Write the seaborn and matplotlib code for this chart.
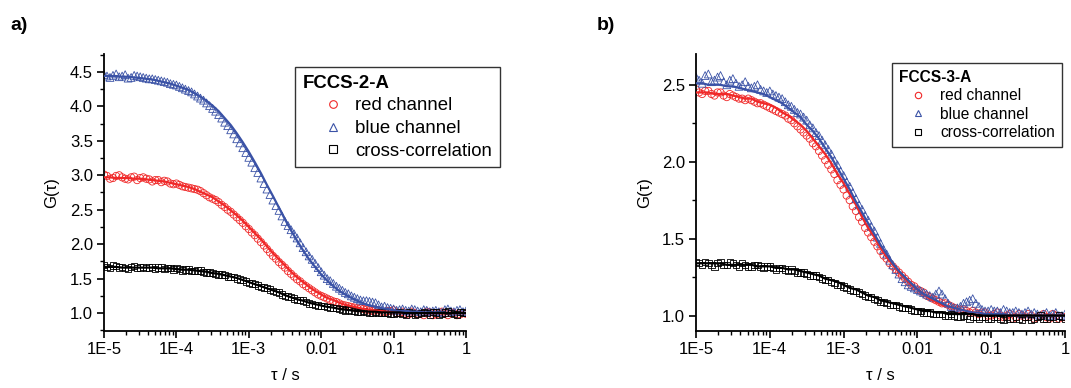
import matplotlib
matplotlib.use("Agg")
import numpy as np
import matplotlib.pyplot as plt
import seaborn as sns
from matplotlib.lines import Line2D
from matplotlib.ticker import FixedLocator, FixedFormatter, MultipleLocator, NullFormatter, LogLocator, FormatStrFormatter

# ---------------- data ----------------
# lag times of the measured points (24 per decade)
tau_data = [
    1.00e-5, 1.10e-5, 1.21e-5, 1.33e-5, 1.47e-5, 1.62e-5, 1.78e-5, 1.96e-5, 2.15e-5, 2.37e-5, 2.61e-5, 2.87e-5,
    3.16e-5, 3.48e-5, 3.83e-5, 4.22e-5, 4.64e-5, 5.11e-5, 5.62e-5, 6.19e-5, 6.81e-5, 7.50e-5, 8.25e-5, 9.09e-5,
    1.00e-4, 1.10e-4, 1.21e-4, 1.33e-4, 1.47e-4, 1.62e-4, 1.78e-4, 1.96e-4, 2.15e-4, 2.37e-4, 2.61e-4, 2.87e-4,
    3.16e-4, 3.48e-4, 3.83e-4, 4.22e-4, 4.64e-4, 5.11e-4, 5.62e-4, 6.19e-4, 6.81e-4, 7.50e-4, 8.25e-4, 9.09e-4,
    1.00e-3, 1.10e-3, 1.21e-3, 1.33e-3, 1.47e-3, 1.62e-3, 1.78e-3, 1.96e-3, 2.15e-3, 2.37e-3, 2.61e-3, 2.87e-3,
    3.16e-3, 3.48e-3, 3.83e-3, 4.22e-3, 4.64e-3, 5.11e-3, 5.62e-3, 6.19e-3, 6.81e-3, 7.50e-3, 8.25e-3, 9.09e-3,
    1.00e-2, 1.10e-2, 1.21e-2, 1.33e-2, 1.47e-2, 1.62e-2, 1.78e-2, 1.96e-2, 2.15e-2, 2.37e-2, 2.61e-2, 2.87e-2,
    3.16e-2, 3.48e-2, 3.83e-2, 4.22e-2, 4.64e-2, 5.11e-2, 5.62e-2, 6.19e-2, 6.81e-2, 7.50e-2, 8.25e-2, 9.09e-2,
    1.00e-1, 1.10e-1, 1.21e-1, 1.33e-1, 1.47e-1, 1.62e-1, 1.78e-1, 1.96e-1, 2.15e-1, 2.37e-1, 2.61e-1, 2.87e-1,
    3.16e-1, 3.48e-1, 3.83e-1, 4.22e-1, 4.64e-1, 5.11e-1, 5.62e-1, 6.19e-1, 6.81e-1, 7.50e-1, 8.25e-1, 9.09e-1,
    1.00]
# lag times of the fitted curves (12 per decade)
tau_fit = [
    1.00e-5, 1.21e-5, 1.47e-5, 1.78e-5, 2.15e-5, 2.61e-5, 3.16e-5, 3.83e-5, 4.64e-5, 5.62e-5, 6.81e-5, 8.25e-5,
    1.00e-4, 1.21e-4, 1.47e-4, 1.78e-4, 2.15e-4, 2.61e-4, 3.16e-4, 3.83e-4, 4.64e-4, 5.62e-4, 6.81e-4, 8.25e-4,
    1.00e-3, 1.21e-3, 1.47e-3, 1.78e-3, 2.15e-3, 2.61e-3, 3.16e-3, 3.83e-3, 4.64e-3, 5.62e-3, 6.81e-3, 8.25e-3,
    1.00e-2, 1.21e-2, 1.47e-2, 1.78e-2, 2.15e-2, 2.61e-2, 3.16e-2, 3.83e-2, 4.64e-2, 5.62e-2, 6.81e-2, 8.25e-2,
    1.00e-1, 1.21e-1, 1.47e-1, 1.78e-1, 2.15e-1, 2.61e-1, 3.16e-1, 3.83e-1, 4.64e-1, 5.62e-1, 6.81e-1, 8.25e-1,
    1.00]

# panel a) FCCS-2-A
a_red_data = [
    3.01, 2.99, 2.95, 2.96, 2.99, 3.00, 2.97, 2.95, 2.94, 2.97, 2.98, 2.93,
    2.96, 2.97, 2.95, 2.94, 2.91, 2.93, 2.93, 2.90, 2.92, 2.91, 2.88, 2.87,
    2.88, 2.86, 2.84, 2.83, 2.82, 2.81, 2.80, 2.79, 2.77, 2.74, 2.71, 2.68,
    2.66, 2.64, 2.61, 2.57, 2.54, 2.50, 2.47, 2.43, 2.39, 2.35, 2.31, 2.26,
    2.22, 2.17, 2.13, 2.08, 2.03, 1.98, 1.93, 1.88, 1.83, 1.79, 1.74, 1.70,
    1.66, 1.61, 1.57, 1.53, 1.49, 1.46, 1.42, 1.39, 1.36, 1.33, 1.30, 1.27,
    1.25, 1.23, 1.21, 1.19, 1.17, 1.16, 1.14, 1.12, 1.11, 1.10, 1.09, 1.08,
    1.07, 1.07, 1.06, 1.05, 1.04, 1.03, 1.05, 1.04, 1.02, 1.01, 1.03, 1.03,
    1.04, 1.00, 1.00, 1.02, 0.99, 0.98, 1.02, 1.00, 0.98, 0.99, 0.97, 1.02,
    1.01, 0.97, 0.98, 1.00, 1.02, 0.99, 0.97, 1.01, 1.00, 0.97, 0.98, 1.00,
    0.99]
a_red_fit = [2.97, 2.97, 2.96, 2.96, 2.96, 2.95, 2.95, 2.94, 2.93, 2.92, 2.91, 2.89, 2.87, 2.85, 2.83, 2.80,
             2.76, 2.72, 2.68, 2.62, 2.56, 2.49, 2.42, 2.34, 2.25, 2.16, 2.07, 1.97, 1.87, 1.78, 1.69, 1.60,
             1.52, 1.45, 1.38, 1.32, 1.27, 1.22, 1.19, 1.15, 1.12, 1.10, 1.08, 1.06, 1.05, 1.04, 1.03, 1.02,
             1.02, 1.01, 1.01, 1.01, 1.01, 1.00, 1.00, 1.00, 1.00, 1.00, 1.00, 1.00, 1.00]
a_blue_data = [
    4.46, 4.44, 4.42, 4.45, 4.47, 4.43, 4.44, 4.46, 4.41, 4.42, 4.45, 4.44,
    4.43, 4.42, 4.41, 4.40, 4.40, 4.39, 4.38, 4.37, 4.36, 4.35, 4.33, 4.32,
    4.31, 4.29, 4.27, 4.25, 4.23, 4.21, 4.18, 4.15, 4.12, 4.09, 4.05, 4.01,
    3.97, 3.93, 3.88, 3.83, 3.77, 3.72, 3.66, 3.60, 3.53, 3.47, 3.40, 3.33,
    3.26, 3.19, 3.11, 3.04, 2.96, 2.88, 2.80, 2.72, 2.64, 2.56, 2.49, 2.41,
    2.33, 2.27, 2.21, 2.15, 2.09, 2.02, 1.95, 1.89, 1.83, 1.78, 1.72, 1.66,
    1.60, 1.55, 1.50, 1.47, 1.43, 1.39, 1.36, 1.33, 1.30, 1.28, 1.25, 1.23,
    1.21, 1.19, 1.18, 1.18, 1.17, 1.16, 1.15, 1.12, 1.09, 1.10, 1.08, 1.07,
    1.06, 1.04, 1.05, 1.06, 1.04, 1.03, 1.06, 1.05, 1.03, 1.02, 1.05, 1.04,
    1.02, 1.03, 1.04, 1.02, 1.01, 1.05, 1.06, 1.03, 1.02, 1.04, 1.05, 1.02,
    1.03]
a_blue_fit = [4.44, 4.44, 4.44, 4.43, 4.43, 4.42, 4.41, 4.40, 4.39, 4.37, 4.35, 4.33, 4.30, 4.27, 4.24, 4.19,
              4.14, 4.08, 4.01, 3.93, 3.83, 3.73, 3.61, 3.48, 3.34, 3.19, 3.03, 2.86, 2.70, 2.53, 2.36, 2.20,
              2.05, 1.91, 1.78, 1.67, 1.56, 1.47, 1.39, 1.32, 1.27, 1.22, 1.18, 1.14, 1.11, 1.09, 1.07, 1.06,
              1.04, 1.03, 1.03, 1.02, 1.02, 1.01, 1.01, 1.01, 1.01, 1.00, 1.00, 1.00, 1.00]
a_cross_data = [
    1.70, 1.67, 1.65, 1.69, 1.68, 1.66, 1.67, 1.65, 1.64, 1.67, 1.68, 1.65,
    1.66, 1.67, 1.65, 1.66, 1.67, 1.64, 1.66, 1.66, 1.64, 1.65, 1.65, 1.63,
    1.65, 1.64, 1.62, 1.63, 1.63, 1.61, 1.61, 1.62, 1.62, 1.60, 1.59, 1.59,
    1.58, 1.57, 1.56, 1.56, 1.55, 1.53, 1.52, 1.52, 1.50, 1.49, 1.48, 1.46,
    1.44, 1.43, 1.42, 1.40, 1.38, 1.37, 1.36, 1.34, 1.32, 1.31, 1.30, 1.27,
    1.25, 1.24, 1.23, 1.21, 1.19, 1.19, 1.18, 1.16, 1.14, 1.13, 1.12, 1.11,
    1.10, 1.10, 1.09, 1.08, 1.07, 1.07, 1.06, 1.05, 1.04, 1.05, 1.04, 1.03,
    1.02, 1.02, 1.03, 1.02, 1.01, 1.00, 1.02, 1.01, 1.00, 1.01, 1.01, 0.99,
    0.99, 1.00, 1.01, 0.99, 0.98, 1.01, 1.00, 0.98, 0.99, 1.00, 1.02, 1.00,
    0.98, 1.02, 1.01, 0.98, 0.99, 1.01, 1.03, 1.00, 0.99, 0.98, 1.02, 1.01,
    1.00]
a_cross_fit = [1.67, 1.67, 1.67, 1.66, 1.66, 1.66, 1.66, 1.66, 1.66, 1.65, 1.65, 1.65, 1.64, 1.63, 1.63, 1.62,
               1.61, 1.60, 1.58, 1.57, 1.55, 1.53, 1.51, 1.48, 1.45, 1.42, 1.39, 1.36, 1.33, 1.30, 1.26, 1.23,
               1.20, 1.18, 1.15, 1.13, 1.11, 1.09, 1.08, 1.06, 1.05, 1.04, 1.03, 1.03, 1.02, 1.02, 1.01, 1.01,
               1.01, 1.01, 1.00, 1.00, 1.00, 1.00, 1.00, 1.00, 1.00, 1.00, 1.00, 1.00, 1.00]

# panel b) FCCS-3-A
b_red_data = [
    2.47, 2.45, 2.44, 2.46, 2.46, 2.44, 2.43, 2.45, 2.45, 2.43, 2.42, 2.44,
    2.43, 2.42, 2.41, 2.41, 2.40, 2.41, 2.40, 2.39, 2.38, 2.38, 2.37, 2.36,
    2.35, 2.34, 2.33, 2.32, 2.31, 2.30, 2.28, 2.27, 2.25, 2.23, 2.21, 2.19,
    2.17, 2.15, 2.12, 2.10, 2.07, 2.04, 2.01, 1.98, 1.95, 1.92, 1.88, 1.85,
    1.82, 1.78, 1.75, 1.71, 1.68, 1.64, 1.61, 1.57, 1.54, 1.51, 1.48, 1.45,
    1.42, 1.39, 1.37, 1.34, 1.32, 1.30, 1.28, 1.26, 1.24, 1.22, 1.20, 1.19,
    1.17, 1.16, 1.15, 1.13, 1.12, 1.11, 1.10, 1.09, 1.08, 1.08, 1.07, 1.06,
    1.05, 1.04, 1.04, 1.04, 1.03, 1.02, 1.03, 1.02, 1.01, 1.02, 1.02, 1.00,
    1.00, 1.01, 1.02, 1.00, 0.99, 1.00, 1.01, 0.98, 0.99, 1.01, 1.00, 0.99,
    1.01, 1.00, 0.98, 0.99, 1.00, 1.01, 0.99, 0.98, 1.01, 1.00, 0.98, 0.99,
    0.99]
b_red_fit = [2.45, 2.45, 2.45, 2.44, 2.44, 2.44, 2.43, 2.42, 2.41, 2.41, 2.39, 2.38, 2.37, 2.35, 2.32, 2.30,
             2.27, 2.24, 2.20, 2.15, 2.10, 2.05, 1.99, 1.92, 1.86, 1.79, 1.72, 1.64, 1.57, 1.51, 1.44, 1.38,
             1.33, 1.28, 1.24, 1.20, 1.17, 1.14, 1.11, 1.09, 1.07, 1.06, 1.05, 1.04, 1.03, 1.02, 1.02, 1.01,
             1.01, 1.01, 1.01, 1.00, 1.00, 1.00, 1.00, 1.00, 1.00, 1.00, 1.00, 1.00, 1.00]
b_blue_data = [
    2.55, 2.53, 2.51, 2.56, 2.57, 2.52, 2.53, 2.55, 2.56, 2.52, 2.50, 2.53,
    2.54, 2.51, 2.49, 2.50, 2.52, 2.49, 2.48, 2.49, 2.50, 2.47, 2.46, 2.45,
    2.46, 2.44, 2.43, 2.42, 2.41, 2.39, 2.37, 2.36, 2.34, 2.32, 2.31, 2.29,
    2.27, 2.24, 2.22, 2.19, 2.17, 2.14, 2.11, 2.08, 2.05, 2.01, 1.98, 1.94,
    1.91, 1.87, 1.84, 1.80, 1.76, 1.72, 1.69, 1.65, 1.62, 1.58, 1.55, 1.51,
    1.47, 1.43, 1.40, 1.36, 1.33, 1.30, 1.27, 1.24, 1.22, 1.20, 1.19, 1.18,
    1.17, 1.16, 1.15, 1.14, 1.13, 1.12, 1.14, 1.16, 1.14, 1.11, 1.08, 1.06,
    1.05, 1.05, 1.06, 1.08, 1.09, 1.10, 1.11, 1.08, 1.06, 1.04, 1.03, 1.03,
    1.04, 1.03, 1.03, 1.02, 1.04, 1.03, 1.02, 1.02, 1.03, 1.02, 1.01, 1.02,
    1.03, 1.01, 1.02, 1.01, 1.00, 1.01, 1.02, 1.00, 1.01, 1.02, 1.00, 1.00,
    1.01]
b_blue_fit = [2.51, 2.51, 2.50, 2.50, 2.50, 2.49, 2.49, 2.48, 2.47, 2.46, 2.45, 2.44, 2.42, 2.40, 2.38, 2.35,
              2.32, 2.29, 2.24, 2.20, 2.15, 2.09, 2.03, 1.96, 1.89, 1.82, 1.74, 1.67, 1.60, 1.53, 1.46, 1.40,
              1.34, 1.29, 1.25, 1.21, 1.17, 1.14, 1.12, 1.10, 1.08, 1.06, 1.05, 1.04, 1.03, 1.02, 1.02, 1.01,
              1.01, 1.01, 1.01, 1.00, 1.00, 1.00, 1.00, 1.00, 1.00, 1.00, 1.00, 1.00, 1.00]
b_cross_data = [
    1.35, 1.34, 1.33, 1.35, 1.34, 1.33, 1.32, 1.34, 1.35, 1.33, 1.33, 1.35,
    1.34, 1.33, 1.32, 1.34, 1.33, 1.32, 1.32, 1.33, 1.33, 1.32, 1.31, 1.32,
    1.32, 1.31, 1.30, 1.31, 1.31, 1.30, 1.29, 1.30, 1.29, 1.28, 1.28, 1.28,
    1.27, 1.26, 1.26, 1.26, 1.25, 1.24, 1.23, 1.23, 1.22, 1.21, 1.20, 1.20,
    1.19, 1.18, 1.17, 1.16, 1.16, 1.15, 1.14, 1.13, 1.12, 1.12, 1.11, 1.10,
    1.09, 1.09, 1.08, 1.07, 1.07, 1.07, 1.06, 1.05, 1.05, 1.05, 1.04, 1.03,
    1.03, 1.03, 1.02, 1.02, 1.02, 1.01, 1.01, 1.01, 1.01, 1.00, 1.00, 1.01,
    1.00, 0.99, 0.99, 1.00, 1.00, 0.98, 0.99, 0.99, 0.98, 0.99, 0.99, 0.98,
    0.98, 0.99, 0.99, 0.98, 0.97, 0.99, 0.98, 0.98, 0.99, 0.98, 0.97, 0.99,
    0.99, 0.97, 0.98, 0.99, 1.00, 0.98, 0.98, 0.99, 0.99, 0.98, 1.00, 0.99,
    0.98]
b_cross_fit = [1.34, 1.34, 1.34, 1.34, 1.34, 1.33, 1.33, 1.33, 1.33, 1.33, 1.32, 1.32, 1.32, 1.31, 1.31, 1.30,
               1.30, 1.29, 1.28, 1.27, 1.26, 1.24, 1.23, 1.22, 1.20, 1.18, 1.17, 1.15, 1.13, 1.12, 1.10, 1.09,
               1.08, 1.07, 1.06, 1.05, 1.04, 1.03, 1.03, 1.02, 1.02, 1.01, 1.01, 1.01, 1.01, 1.01, 1.00, 1.00,
               1.00, 1.00, 1.00, 1.00, 1.00, 1.00, 1.00, 1.00, 1.00, 1.00, 1.00, 1.00, 1.00]

series_labels = ["red channel", "blue channel", "cross-correlation"]
legend_titles = ["FCCS-2-A", "FCCS-3-A"]
panel_letters = ["a)", "b)"]
xtick_values = [1e-5, 1e-4, 1e-3, 1e-2, 1e-1, 1]
xtick_labels = ["1E-5", "1E-4", "1E-3", "0.01", "0.1", "1"]
x_label = "\u03c4 / s"
y_label = "G(\u03c4)"

# ---------------- style ----------------
sns.set_theme(style="ticks")
plt.rcParams['font.family'] = ['Liberation Sans', 'DejaVu Sans']
plt.rcParams.update({
    "text.color": "black", "axes.labelcolor": "black",
    "xtick.color": "black", "ytick.color": "black",
    "axes.edgecolor": "black", "axes.linewidth": 1.3,
})

RED = "#F02828"
BLUE = "#3A52A6"
BLACK = "#000000"
colors = [RED, BLUE, BLACK]
markers = ["o", "^", "s"]
msizes = [27, 32, 21]

W, H = 1071, 388
fig = plt.figure(figsize=(W / 100, H / 100), dpi=100)
axA = fig.add_axes([104 / W, 57 / H, 362 / W, 277 / H])
axB = fig.add_axes([696 / W, 57 / H, 369 / W, 277 / H])

panels = [
    (axA, [a_red_data, a_blue_data, a_cross_data], [a_red_fit, a_blue_fit, a_cross_fit], (0.74, 4.76)),
    (axB, [b_red_data, b_blue_data, b_cross_data], [b_red_fit, b_blue_fit, b_cross_fit], (0.90, 2.70)),
]

for ax, datas, fits, ylim in panels:
    for y, c, m, s in zip(datas, colors, markers, msizes):
        sns.scatterplot(x=tau_data, y=y, marker=m, s=s, color=c, facecolor="none", edgecolor=c,
                        linewidth=0.6, ax=ax, legend=False, zorder=2)
    for y, c in zip(fits, colors):
        sns.lineplot(x=tau_fit, y=y, color=c, linewidth=1.6, ax=ax, legend=False,
                     estimator=None, zorder=3)
    ax.set_xscale("log")
    ax.set_xlim(1e-5, 1)
    ax.set_ylim(*ylim)
    ax.xaxis.set_major_locator(FixedLocator(xtick_values))
    ax.xaxis.set_major_formatter(FixedFormatter(xtick_labels))
    ax.xaxis.set_minor_locator(LogLocator(base=10, subs=np.arange(2, 10), numticks=100))
    ax.xaxis.set_minor_formatter(NullFormatter())
    ax.yaxis.set_major_locator(MultipleLocator(0.5))
    ax.yaxis.set_minor_locator(MultipleLocator(0.25))
    ax.yaxis.set_major_formatter(FormatStrFormatter("%.1f"))
    ax.tick_params(which="major", direction="out", length=5, width=1.2, labelsize=12, pad=3)
    ax.tick_params(which="minor", direction="out", length=3, width=1.0)
    for sp in ["top", "right"]:
        ax.spines[sp].set_visible(False)
    ax.set_xlabel(x_label, fontsize=12)
    ax.set_ylabel(y_label, fontsize=12)
    ax.xaxis.set_label_coords(0.5, -0.135)

axA.yaxis.set_label_coords(-0.125, 0.5)
axB.yaxis.set_label_coords(-0.118, 0.5)

# legends
def make_handles(ms):
    return [Line2D([], [], ls="none", marker=m, mfc="none", mec=c, ms=ms, mew=0.8)
            for m, c in zip(markers, colors)]

legA = axA.legend(make_handles(5.5), series_labels, title=legend_titles[0],
                  loc="upper left", bbox_to_anchor=(295 / W, 1 - 67 / H),
                  bbox_transform=fig.transFigure, fontsize=13.4,
                  title_fontproperties={"weight": "bold", "size": 13.4},
                  alignment="left", frameon=True, fancybox=False, shadow=False,
                  borderpad=0.42, handlelength=3.2, handletextpad=-0.38,
                  labelspacing=0.3, borderaxespad=0)
legA.get_frame().set_edgecolor("black")
legA.get_frame().set_linewidth(1.0)

legB = axB.legend(make_handles(4.6), series_labels, title=legend_titles[1],
                  loc="upper left", bbox_to_anchor=(892 / W, 1 - 63 / H),
                  bbox_transform=fig.transFigure, fontsize=11.2,
                  title_fontproperties={"weight": "bold", "size": 11.2},
                  alignment="left", frameon=True, fancybox=False, shadow=False,
                  borderpad=0.45, handlelength=2.4, handletextpad=0.23,
                  labelspacing=0.22, borderaxespad=0)
legB.get_frame().set_edgecolor("black")
legB.get_frame().set_linewidth(1.0)

fig.text(10 / W, 1 - 26 / H, panel_letters[0], fontsize=14, fontweight="bold", va="center", ha="left")
fig.text(597 / W, 1 - 26 / H, panel_letters[1], fontsize=14, fontweight="bold", va="center", ha="left")

fig.savefig("out.png", dpi=100)
